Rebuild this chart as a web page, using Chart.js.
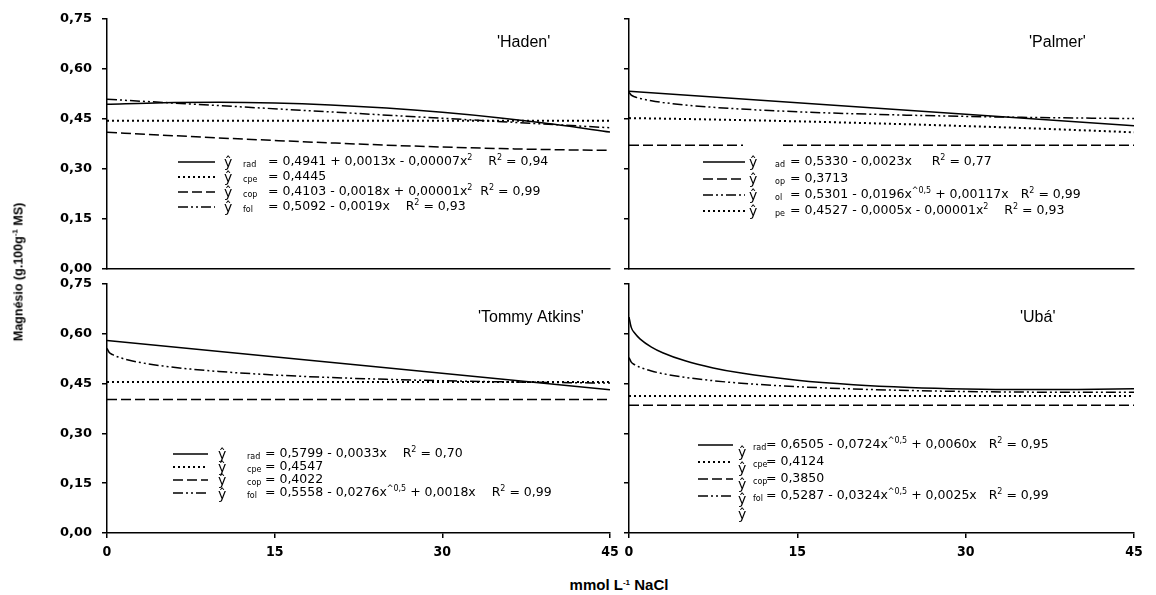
<!DOCTYPE html>
<html>
<head>
<meta charset="utf-8">
<script src="https://cdn.jsdelivr.net/npm/chart.js@4.4.1/dist/chart.umd.min.js"></script>
<style>
  body { margin: 0; background: #fff; width: 1156px; height: 595px; position: relative; overflow: hidden; }
  canvas { position: absolute; }
  .axis-title { position: absolute; white-space: nowrap; font-family: 'Liberation Sans', Arial, sans-serif; font-weight: bold; color: #000; }
  .axis-title sup { font-size: 8px; vertical-align: 5px; }
  #y-title { left: 18px; top: 272px; font-size: 12.5px; transform: translate(-50%, -50%) rotate(-90deg); }
  #x-title { left: 619px; top: 584px; font-size: 15px; transform: translate(-50%, -50%); }
</style>
</head>
<body>
<canvas id="haden" width="620" height="275" style="left:0px;top:0px"></canvas>
<canvas id="palmer" width="529" height="275" style="left:620px;top:0px"></canvas>
<canvas id="tommy" width="620" height="285" style="left:0px;top:275px"></canvas>
<canvas id="uba" width="529" height="285" style="left:620px;top:275px"></canvas>
<div class="axis-title" id="y-title">Magnésio (g.100g<sup>-1</sup> MS)</div>
<div class="axis-title" id="x-title">mmol L<sup>-1</sup> NaCl</div>
<script>
/**
 * Data (mmol L-1 NaCl on x, magnesium on y)
 */
const X_FINE = [0, 0.2, 0.5, 1, 2, 3, 5, 7.5, 10, 15, 20, 25, 30, 35, 40, 45];
const X_STEP = [0, 5, 10, 15, 20, 25, 30, 35, 40, 45];
const X_ENDS = [0, 45];

const X_TICKS = [0, 15, 30, 45];
const Y_TICKS = [0, 0.15, 0.30, 0.45, 0.60, 0.75];

// 'Haden'
const HADEN_RAD = [0.4941, 0.4989, 0.5001, 0.4979, 0.4921, 0.4829, 0.4701, 0.4539, 0.4341, 0.4109];
const HADEN_CPE = [0.4445, 0.4445];
const HADEN_COP = [0.4103, 0.4016, 0.3933, 0.3856, 0.3783, 0.3716, 0.3660, 0.3615, 0.3580, 0.3560];
const HADEN_FOL = [0.5092, 0.4237];

// 'Palmer'
const PALMER_RAD = [0.5330, 0.4295];
const PALMER_COP = [0.3713, 0.3713];
const PALMER_FOL = [0.5301, 0.5216, 0.5168, 0.5117, 0.5047, 0.4997, 0.4921, 0.4852, 0.4798, 0.4717, 0.4659, 0.4614, 0.4578, 0.4551, 0.4529, 0.4513];
const PALMER_CPE = [0.4527, 0.4500, 0.4467, 0.4430, 0.4387, 0.4340, 0.4287, 0.4230, 0.4167, 0.4100];

// 'Tommy Atkins'
const TOMMY_RAD = [0.5799, 0.4314];
const TOMMY_CPE = [0.4547, 0.4547];
const TOMMY_COP = [0.4022, 0.4022];
const TOMMY_FOL = [0.5558, 0.5438, 0.5372, 0.5300, 0.5204, 0.5134, 0.5031, 0.4937, 0.4865, 0.4759, 0.4684, 0.4628, 0.4586, 0.4555, 0.4532, 0.4517];

// 'Ubá'
const UBA_RAD = [0.6505, 0.6193, 0.6023, 0.5841, 0.5601, 0.5431, 0.5186, 0.4972, 0.4816, 0.4601, 0.4467, 0.4385, 0.4340, 0.4322, 0.4326, 0.4348];
const UBA_CPE = [0.4124, 0.4124];
const UBA_COP = [0.3850, 0.3850];
const UBA_FOL = [0.5287, 0.5147, 0.5070, 0.4988, 0.4879, 0.4801, 0.4688, 0.4587, 0.4512, 0.4407, 0.4338, 0.4292, 0.4262, 0.4245, 0.4238, 0.4239];

/**
 * Styles
 */
const LINE_STYLES = {
    solid:   { borderDash: [], borderWidth: 1.5 },
    dotted:  { borderDash: [2, 3], borderWidth: 2 },
    dashed:  { borderDash: [10, 4], borderWidth: 1.5 },
    dashdot: { borderDash: [10, 3, 2, 3, 2, 3], borderWidth: 1.5 }
};
const Y_FONT = { family: "'DejaVu Sans', sans-serif", weight: 'bold', size: 13 };
const X_FONT = { family: "'Liberation Sans Narrow', 'DejaVu Sans Condensed', 'Liberation Sans', sans-serif", weight: 'bold', size: 14 };
const LEGEND_FONT = "12.5px 'DejaVu Sans', sans-serif";
const SMALL_FONT = "8px 'DejaVu Sans', sans-serif";
const YHAT_FONT = "14px 'DejaVu Sans', sans-serif";
const TITLE_FONT = "16px 'Liberation Sans', Arial, sans-serif";

function series(xs, ys, style) {
    return Object.assign({
        data: xs.map((x, i) => ({ x: x, y: ys[i] })),
        borderColor: '#000',
        pointRadius: 0,
        fill: false,
        cubicInterpolationMode: 'monotone'
    }, LINE_STYLES[style]);
}

/**
 * Draws text with _{sub} and ^{sup} parts, returns the end x
 */
function drawRich(ctx, str, x, y) {
    const re = /(\^|_)\{([^}]*)\}/g;
    let last = 0;
    let m;
    while ((m = re.exec(str))) {
        x = drawPart(ctx, str.slice(last, m.index), x, y, 'main');
        x = drawPart(ctx, m[2], x, y, m[1] === '^' ? 'sup' : 'sub');
        last = re.lastIndex;
    }
    return drawPart(ctx, str.slice(last), x, y, 'main');
}

function drawPart(ctx, t, x, y, kind) {
    if (!t) return x;
    ctx.font = kind === 'main' ? LEGEND_FONT : SMALL_FONT;
    const dy = kind === 'sup' ? -4 : (kind === 'sub' ? 3 : 0);
    ctx.fillText(t, x, y + dy);
    return x + ctx.measureText(t).width;
}

/**
 * Plugin for the panel name and the equation legend
 */
const panelText = {
    id: 'panelText',
    afterDatasetsDraw(chart, args, opts) {
        const ctx = chart.ctx;
        const ox = opts.offset.x;
        const oy = opts.offset.y;
        const lg = opts.legend;
        ctx.save();
        ctx.fillStyle = '#000';
        ctx.textBaseline = 'middle';

        ctx.font = TITLE_FONT;
        ctx.fillText(opts.title.text, opts.title.x - ox, opts.title.y - oy);

        if (lg.mask) {
            ctx.fillStyle = '#fff';
            ctx.fillRect(lg.mask.x - ox, lg.mask.y - oy, lg.mask.w, lg.mask.h);
            ctx.fillStyle = '#000';
        }

        lg.items.forEach((item, i) => {
            const y = lg.rows[i] - oy;
            const ds = chart.data.datasets[item.ds];
            ctx.save();
            ctx.strokeStyle = '#000';
            ctx.lineWidth = ds.borderWidth;
            ctx.setLineDash(ds.borderDash);
            ctx.beginPath();
            ctx.moveTo(lg.x0 - ox, y);
            ctx.lineTo(lg.x0 + lg.len - ox, y);
            ctx.stroke();
            ctx.restore();

            drawPart(ctx, item.sub, lg.subX - ox, y, 'sub');
            drawRich(ctx, item.text, lg.mainX - ox, y);
        });

        ctx.font = YHAT_FONT;
        lg.yhatRows.forEach(r => ctx.fillText('ŷ', lg.yhatX - ox, r - oy + 1));
        ctx.restore();
    }
};

const PANELS = [
    {
        id: 'haden', left: 0, top: 0, yWidth: 107, xHeight: 6, pad: { top: 19, right: 10 }, showY: true, showX: false,
        datasets: [
            series(X_STEP, HADEN_RAD, 'solid'),
            series(X_ENDS, HADEN_CPE, 'dotted'),
            series(X_STEP, HADEN_COP, 'dashed'),
            series(X_ENDS, HADEN_FOL, 'dashdot')
        ],
        title: { text: "'Haden'", x: 497, y: 43 },
        legend: {
            x0: 178, len: 37, yhatX: 224, subX: 243, mainX: 268,
            rows: [162, 177, 192, 207], yhatRows: [162, 177, 192, 207],
            items: [
                { ds: 0, sub: 'rad', text: '= 0,4941 + 0,0013x - 0,00007x^{2}    R^{2} = 0,94' },
                { ds: 1, sub: 'cpe', text: '= 0,4445' },
                { ds: 2, sub: 'cop', text: '= 0,4103 - 0,0018x + 0,00001x^{2}  R^{2} = 0,99' },
                { ds: 3, sub: 'fol', text: '= 0,5092 - 0,0019x    R^{2} = 0,93' }
            ]
        }
    },
    {
        id: 'palmer', left: 620, top: 0, yWidth: 9, xHeight: 6, pad: { top: 19, right: 15 }, showY: false, showX: false,
        datasets: [
            series(X_ENDS, PALMER_RAD, 'solid'),
            series(X_ENDS, PALMER_COP, 'dashed'),
            series(X_FINE, PALMER_FOL, 'dashdot'),
            series(X_STEP, PALMER_CPE, 'dotted')
        ],
        title: { text: "'Palmer'", x: 1029, y: 43 },
        legend: {
            x0: 703, len: 42, yhatX: 749, subX: 775, mainX: 790,
            rows: [162, 179, 195, 211], yhatRows: [162, 179, 195, 211],
            mask: { x: 743, y: 139, w: 38, h: 80 },
            items: [
                { ds: 0, sub: 'ad', text: '= 0,5330 - 0,0023x     R^{2} = 0,77' },
                { ds: 1, sub: 'op', text: '= 0,3713' },
                { ds: 2, sub: 'ol', text: '= 0,5301 - 0,0196x^{^0,5} + 0,00117x   R^{2} = 0,99' },
                { ds: 3, sub: 'pe', text: '= 0,4527 - 0,0005x - 0,00001x^{2}    R^{2} = 0,93' }
            ]
        }
    },
    {
        id: 'tommy', left: 0, top: 275, yWidth: 107, xHeight: 27, pad: { top: 9, right: 10 }, showY: true, showX: true,
        datasets: [
            series(X_ENDS, TOMMY_RAD, 'solid'),
            series(X_ENDS, TOMMY_CPE, 'dotted'),
            series(X_ENDS, TOMMY_COP, 'dashed'),
            series(X_FINE, TOMMY_FOL, 'dashdot')
        ],
        title: { text: "'Tommy Atkins'", x: 478, y: 318 },
        legend: {
            x0: 173, len: 35, yhatX: 218, subX: 247, mainX: 265,
            rows: [454, 467, 480, 493], yhatRows: [454, 467, 480, 494],
            items: [
                { ds: 0, sub: 'rad', text: '= 0,5799 - 0,0033x    R^{2} = 0,70' },
                { ds: 1, sub: 'cpe', text: '= 0,4547' },
                { ds: 2, sub: 'cop', text: '= 0,4022' },
                { ds: 3, sub: 'fol', text: '= 0,5558 - 0,0276x^{^0,5} + 0,0018x    R^{2} = 0,99' }
            ]
        }
    },
    {
        id: 'uba', left: 620, top: 275, yWidth: 9, xHeight: 27, pad: { top: 9, right: 15 }, showY: false, showX: true,
        datasets: [
            series(X_FINE, UBA_RAD, 'solid'),
            series(X_ENDS, UBA_CPE, 'dotted'),
            series(X_ENDS, UBA_COP, 'dashed'),
            series(X_FINE, UBA_FOL, 'dashdot')
        ],
        title: { text: "'Ubá'", x: 1020, y: 318 },
        legend: {
            x0: 698, len: 35, yhatX: 738, subX: 753, mainX: 766,
            rows: [445, 462, 479, 496], yhatRows: [452, 468, 484, 499, 514],
            items: [
                { ds: 0, sub: 'rad', text: '= 0,6505 - 0,0724x^{^0,5} + 0,0060x   R^{2} = 0,95' },
                { ds: 1, sub: 'cpe', text: '= 0,4124' },
                { ds: 2, sub: 'cop', text: '= 0,3850' },
                { ds: 3, sub: 'fol', text: '= 0,5287 - 0,0324x^{^0,5} + 0,0025x   R^{2} = 0,99' }
            ]
        }
    }
];

/**
 * Builds one panel of the figure
 */
function makePanel(p) {
    const axisGrid = (ticks) => ({ drawOnChartArea: false, drawTicks: ticks, tickLength: 5, color: '#000', lineWidth: 1.5 });
    const axisBorder = { color: '#000', width: 1.5 };

    return new Chart(document.getElementById(p.id), {
        type: 'line',
        data: { datasets: p.datasets },
        options: {
            responsive: false,
            animation: false,
            devicePixelRatio: 1,
            layout: { padding: { left: 0, top: p.pad.top, right: p.pad.right, bottom: 0 } },
            plugins: {
                legend: { display: false },
                tooltip: { enabled: false },
                panelText: { offset: { x: p.left, y: p.top }, title: p.title, legend: p.legend }
            },
            scales: {
                x: {
                    type: 'linear', min: 0, max: 45,
                    afterBuildTicks: s => { s.ticks = X_TICKS.map(v => ({ value: v })); },
                    afterFit: s => { s.height = p.xHeight; s.paddingLeft = 0; s.paddingRight = 0; },
                    grid: axisGrid(p.showX),
                    border: axisBorder,
                    ticks: { display: p.showX, padding: 6, color: '#000', font: X_FONT, maxRotation: 0, autoSkip: false, callback: v => String(v) }
                },
                y: {
                    type: 'linear', min: 0, max: 0.75,
                    afterBuildTicks: s => { s.ticks = Y_TICKS.map(v => ({ value: v })); },
                    afterFit: s => { s.width = p.yWidth; s.paddingTop = 0; s.paddingBottom = 0; },
                    grid: axisGrid(true),
                    border: axisBorder,
                    ticks: { display: p.showY, padding: 10, color: '#000', font: Y_FONT, callback: v => v.toFixed(2).replace('.', ',') }
                }
            }
        },
        plugins: [panelText]
    });
}

PANELS.forEach(makePanel);
</script>
</body>
</html>
